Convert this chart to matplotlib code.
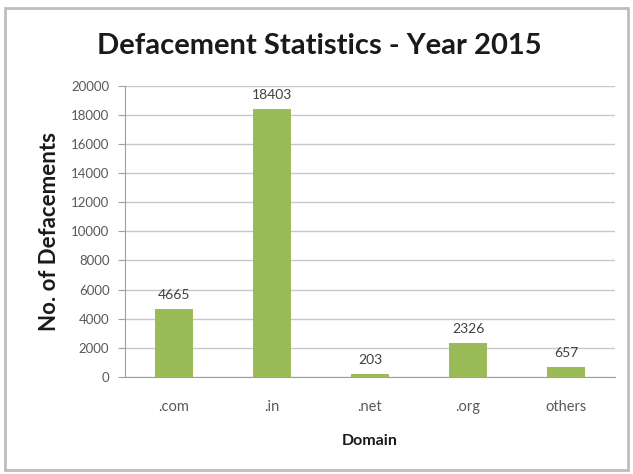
import matplotlib
matplotlib.use("Agg")
import matplotlib.pyplot as plt
from matplotlib.patches import Rectangle

categories = [".com", ".in", ".net", ".org", "others"]
values = [4665, 18403, 203, 2326, 657]
yticks = list(range(0, 20001, 2000))

plt.rcParams['font.family'] = ['Lato', 'DejaVu Sans']

fig = plt.figure(figsize=(6.33, 4.74), dpi=100)
fig.patch.set_facecolor("white")
fig.patches.append(Rectangle((0.008, 0.008), 0.984, 0.975, transform=fig.transFigure,
                             fill=False, edgecolor="#bdbdbd", linewidth=2))

ax = fig.add_axes([0.197, 0.205, 0.775, 0.614])
x = list(range(len(categories)))
bars = ax.bar(x, values, width=0.39, color="#9BBB59", zorder=3)
for xi, v in zip(x, values):
    ax.text(xi, v + 550, str(v), ha="center", va="bottom", fontsize=10, color="#404040")

ax.set_xlim(-0.5, len(categories) - 0.5)
ax.set_ylim(0, 20000)
ax.set_yticks(yticks)
ax.set_yticklabels([str(t) for t in yticks], fontsize=9.5, color="#595959")
ax.set_xticks(x)
ax.set_xticklabels(categories, fontsize=10.5, color="#595959")
ax.tick_params(axis="x", length=0, pad=17)
ax.tick_params(axis="y", length=5, color="#a0a0a0", pad=6)
ax.grid(axis="y", color="#c8c8c8", linewidth=1, zorder=0)
for s in ["top", "right"]:
    ax.spines[s].set_visible(False)
ax.spines["left"].set_color("#a0a0a0")
ax.spines["bottom"].set_color("#a0a0a0")

ax.set_ylabel("No. of Defacements", fontsize=16, fontweight="bold", color="#1a1a1a", labelpad=8)
ax.set_xlabel("Domain", fontsize=11.5, fontweight="bold", color="#1a1a1a", labelpad=14)
fig.text(0.505, 0.902, "Defacement Statistics - Year 2015", ha="center", va="center",
         fontsize=21, fontweight="bold", color="#1a1a1a")

fig.savefig("out.png", dpi=100)
